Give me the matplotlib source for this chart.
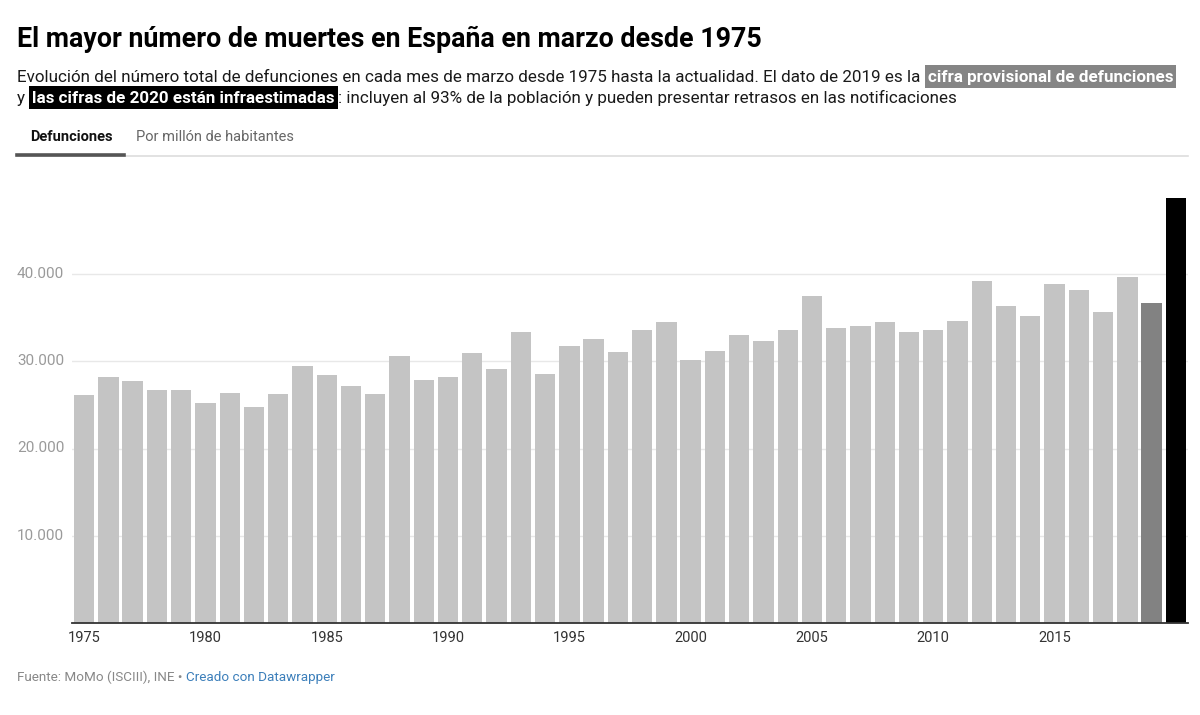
import matplotlib
matplotlib.use("Agg")
import matplotlib.pyplot as plt
from matplotlib.patches import Rectangle
from matplotlib.lines import Line2D
import numpy as np

plt.rcParams['font.family'] = ['Roboto', 'DejaVu Sans']

years = list(range(1975, 2021))
deaths = [26100, 28200, 27700, 26700, 26700, 25250, 26350, 24800, 26300, 29400,
          28400, 27200, 26200, 30600, 27800, 28200, 31000, 29150, 33400, 28550,
          31800, 32500, 31050, 33550, 34450, 30200, 31200, 33050, 32350, 33600,
          37500, 33850, 34000, 34550, 33400, 33550, 34600, 39200, 36300, 35200,
          38900, 38200, 35700, 39700, 36700, 48700]
colors = ['#c4c4c4'] * 44 + ['#828282', '#000000']
yticks = [10000, 20000, 30000, 40000]
ytick_labels = ['10.000', '20.000', '30.000', '40.000']
xticks = [1975, 1980, 1985, 1990, 1995, 2000, 2005, 2010, 2015]

W, H = 1200, 715
fig = plt.figure(figsize=(W / 100, H / 100), dpi=100)
fig.patch.set_facecolor('white')

def fx(px):
    return px / W

def fy(py):
    return 1 - py / H

# axes
ax_left, ax_right = 72, 1188
ax_bottom_px = 623
ymax = 50000
px_per_unit = 8.725 / 1000
ax_top_px = ax_bottom_px - ymax * px_per_unit
ax = fig.add_axes([fx(ax_left), fy(ax_bottom_px), fx(ax_right - ax_left),
                   (ax_bottom_px - ax_top_px) / H])
ax.bar(years, deaths, width=0.84, color=colors, zorder=2)
ax.set_xlim(years[0] - 0.5, years[-1] + 0.5)
ax.set_ylim(0, ymax)
for s in ['top', 'right', 'left']:
    ax.spines[s].set_visible(False)
ax.spines['bottom'].set_color('#333333')
ax.spines['bottom'].set_linewidth(1.3)
ax.spines['bottom'].set_zorder(3)
ax.set_yticks(yticks)
ax.set_yticklabels([])
ax.tick_params(axis='y', length=0)
ax.grid(axis='y', color='#e8e8e8', linewidth=1.0, zorder=0)
ax.set_axisbelow(True)
ax.set_xticks(xticks)
ax.set_xticklabels([str(x) for x in xticks], fontsize=10.5, color='#333333')
ax.tick_params(axis='x', length=0, pad=6)
for v, lab in zip(yticks, ytick_labels):
    ax.annotate(lab, xy=(0, v), xycoords=('figure fraction', 'data'),
                xytext=(17 * 0.72, 0), textcoords='offset points',
                ha='left', va='center', fontsize=11, color='#9a9a9a')

# Title
fig.text(fx(17), fy(47), 'El mayor número de muertes en España en marzo desde 1975',
         fontsize=19.3, fontweight='bold', color='#000000', ha='left', va='baseline')

# Subtitle with highlights
renderer = fig.canvas.get_renderer()
sub_fs = 12.25

def place(x, yb, s, **kw):
    t = fig.text(fx(x), fy(yb), s, fontsize=sub_fs, ha='left', va='baseline', **kw)
    bb = t.get_window_extent(renderer=renderer)
    return t, bb.width

def highlight(x, yb, s, bg):
    t, w = place(x, yb, s, color='white', fontweight='bold')
    pad = 3
    rect = Rectangle((fx(x - pad), fy(yb + 6)), fx(w + 2 * pad), 23 / H,
                     transform=fig.transFigure, facecolor=bg, edgecolor='none', zorder=0)
    fig.patches.append(rect)
    t.set_zorder(2)
    return w + 2 * pad

line1_y = 82
line2_y = 103
x = 17
_, w = place(x, line1_y,
             'Evolución del número total de defunciones en cada mes de marzo desde 1975 hasta la actualidad. El dato de 2019 es la ',
             color='#1a1a1a')
x += w + 3
highlight(x, line1_y, 'cifra provisional de defunciones', '#858585')

x = 17
_, w = place(x, line2_y, 'y ', color='#1a1a1a')
x += w + 3
w = highlight(x, line2_y, 'las cifras de 2020 están infraestimadas', '#000000')
x += w - 3
place(x, line2_y,
      ': incluyen al 93% de la población y pueden presentar retrasos en las notificaciones',
      color='#1a1a1a')

# Tabs
fig.text(fx(30), fy(141), 'Defunciones', fontsize=10.5, fontweight='bold',
         color='#111111', ha='left', va='baseline')
fig.text(fx(136), fy(141), 'Por millón de habitantes', fontsize=10.5,
         color='#666666', ha='left', va='baseline')
fig.lines.append(Line2D([fx(17), fx(1188)], [fy(155.5), fy(155.5)],
                        transform=fig.transFigure, color='#dddddd', linewidth=1.2))
fig.lines.append(Line2D([fx(17), fx(124)], [fy(154.5), fy(154.5)],
                        transform=fig.transFigure, color='#555555', linewidth=2.6))

# Footer
t1 = fig.text(fx(17), fy(681), 'Fuente: MoMo (ISCIII), INE • ', fontsize=9.7,
              color='#888888', ha='left', va='baseline')
w1 = t1.get_window_extent(renderer=renderer).width
fig.text(fx(17 + w1), fy(681), 'Creado con Datawrapper', fontsize=9.7,
         color='#3c7fba', ha='left', va='baseline')

fig.savefig('out.png', dpi=100, facecolor='white')
